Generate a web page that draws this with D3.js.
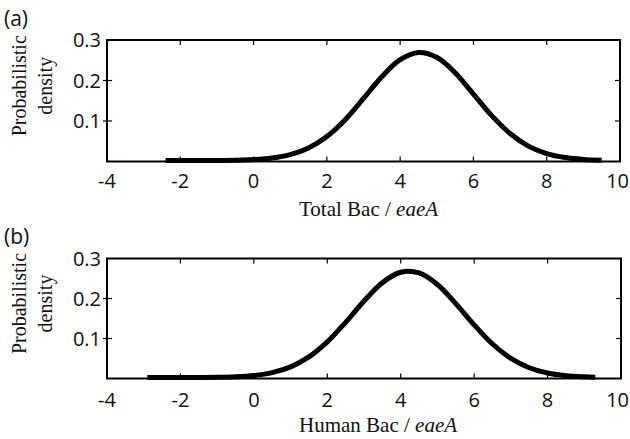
<!DOCTYPE html>
<html>
<head>
<meta charset="utf-8">
<script src="https://cdn.jsdelivr.net/npm/d3@7"></script>
<style>
  html, body { margin: 0; padding: 0; background: #fff; }
  svg { display: block; }
</style>
</head>
<body>
<script>
// ---- data ----
const xTicks = [-4, -2, 0, 2, 4, 6, 8, 10];
const yTicks = [0.1, 0.2, 0.3];

const totalX = [-2.4, -2, -1.5, -1, -0.5, 0, 0.5, 1, 1.5, 2, 2.5, 3, 3.5, 4, 4.5, 5, 5.5, 6, 6.5, 7, 7.5, 8, 8.5, 9, 9.5];
const totalY = [0.0000, 0.0000, 0.0001, 0.0002, 0.0007, 0.0022, 0.0060, 0.0144, 0.0310, 0.0593, 0.1009, 0.1531, 0.2069, 0.2489, 0.2668, 0.2548, 0.2167, 0.1641, 0.1107, 0.0666, 0.0356, 0.0170, 0.0072, 0.0027, 0.0009];

const humanX = [-2.9, -2.5, -2, -1.5, -1, -0.5, 0, 0.5, 1, 1.5, 2, 2.5, 3, 3.5, 4, 4.5, 5, 5.5, 6, 6.5, 7, 7.5, 8, 8.5, 9, 9.3];
const humanY = [0.0000, 0.0000, 0.0001, 0.0002, 0.0006, 0.0019, 0.0051, 0.0123, 0.0266, 0.0514, 0.0890, 0.1379, 0.1911, 0.2371, 0.2631, 0.2614, 0.2324, 0.1848, 0.1316, 0.0838, 0.0478, 0.0244, 0.0111, 0.0045, 0.0017, 0.0009];

const panelLabels = ["(a)", "(b)"];
const xTitles = ["Total Bac / ", "Human Bac / "];
const xTitleItalic = "eaeA";
const yTitleLines = ["Probabilistic", "density"];

// ---- layout ----
const W = 630, H = 439;
const svg = d3.select("body").append("svg").attr("width", W).attr("height", H);
svg.append("rect").attr("width", W).attr("height", H).attr("fill", "#fff");

const sans = "'Open Sans', 'Noto Sans', sans-serif";
const serif = "'Liberation Serif', 'DejaVu Serif', serif";

const panels = [
  { x0: 107, x1: 620, yTop: 40, yBot: 161.5, xs: totalX, ys: totalY, label: panelLabels[0], title: xTitles[0], labY: 26, tickLabY: 188, titleY: 216 },
  { x0: 107, x1: 621, yTop: 258.5, yBot: 378.5, xs: humanX, ys: humanY, label: panelLabels[1], title: xTitles[1], labY: 244, tickLabY: 407, titleY: 432 }
];

panels.forEach(p => {
  const x = d3.scaleLinear().domain([-4, 10]).range([p.x0, p.x1]);
  const y = d3.scaleLinear().domain([0, 0.3]).range([p.yBot, p.yTop]);
  const g = svg.append("g");

  // curve
  const pts = p.xs.map((v, i) => [v, p.ys[i]]);
  const line = d3.line().x(d => x(d[0])).y(d => y(d[1]) - 1).curve(d3.curveCatmullRom.alpha(0.5));
  g.append("path").datum(pts).attr("d", line)
    .attr("fill", "none").attr("stroke", "#000").attr("stroke-width", 5)
    .attr("stroke-linejoin", "round").attr("stroke-linecap", "butt");

  // frame
  g.append("rect").attr("x", x(-4)).attr("y", y(0.3))
    .attr("width", x(10) - x(-4)).attr("height", y(0) - y(0.3))
    .attr("fill", "none").attr("stroke", "#000").attr("stroke-width", 2);

  // x ticks (inside, bottom and top)
  const inner = xTicks.slice(1, -1);
  g.selectAll(".xb").data(inner).join("line")
    .attr("x1", d => x(d)).attr("x2", d => x(d))
    .attr("y1", y(0)).attr("y2", y(0) - 5)
    .attr("stroke", "#000").attr("stroke-width", 1.2);
  g.selectAll(".xt").data(inner).join("line")
    .attr("x1", d => x(d)).attr("x2", d => x(d))
    .attr("y1", y(0.3)).attr("y2", y(0.3) + 5)
    .attr("stroke", "#000").attr("stroke-width", 1.2);

  // y ticks
  const yin = yTicks.slice(0, -1);
  g.selectAll(".yl").data(yin).join("line")
    .attr("x1", x(-4) - 4).attr("x2", x(-4) + 5)
    .attr("y1", d => y(d)).attr("y2", d => y(d))
    .attr("stroke", "#000").attr("stroke-width", 1.2);
  g.selectAll(".yr").data(yin).join("line")
    .attr("x1", x(10)).attr("x2", x(10) - 5)
    .attr("y1", d => y(d)).attr("y2", d => y(d))
    .attr("stroke", "#000").attr("stroke-width", 1.2);

  // tick labels
  const last = xTicks[xTicks.length - 1];
  g.selectAll(".xlab").data(xTicks).join("text")
    .attr("x", d => d === last ? W - 1 : x(d)).attr("y", p.tickLabY)
    .attr("text-anchor", d => d === last ? "end" : "middle")
    .attr("font-family", sans).attr("font-size", 20)
    .attr("fill", "#111").text(d => d);
  g.selectAll(".ylab").data(yTicks).join("text")
    .attr("x", x(-4) - 6).attr("y", d => y(d)).attr("dy", "0.35em")
    .attr("text-anchor", "end").attr("font-family", sans).attr("font-size", 20)
    .attr("fill", "#111").text(d => d3.format(".1f")(d));

  // panel label
  g.append("text").attr("x", 4).attr("y", p.labY)
    .attr("font-family", sans).attr("font-size", 21).attr("fill", "#111").text(p.label);

  // x title
  const t = g.append("text").attr("x", 299).attr("y", p.titleY)
    .attr("text-anchor", "start").attr("font-family", serif).attr("font-size", 21).attr("fill", "#111");
  t.append("tspan").text(p.title);
  t.append("tspan").attr("font-style", "italic").text(xTitleItalic);

  // y title
  const cy = (y(0) + y(0.3)) / 2 - 15;
  const yt = g.append("text").attr("transform", `translate(26,${cy}) rotate(-90)`)
    .attr("text-anchor", "middle").attr("font-family", serif).attr("font-size", 20).attr("fill", "#111");
  yt.append("tspan").attr("x", 0).attr("y", 0).text(yTitleLines[0]);
  yt.append("tspan").attr("x", 0).attr("y", 26).text(yTitleLines[1]);
});
</script>
</body>
</html>
